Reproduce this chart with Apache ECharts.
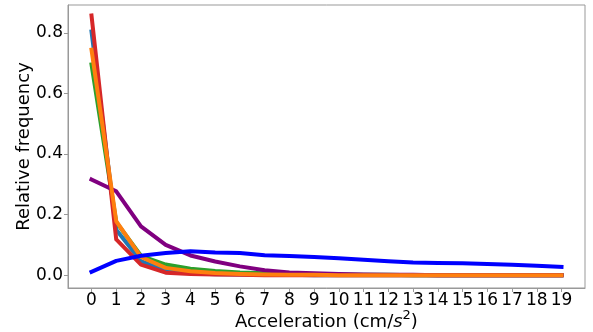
<!DOCTYPE html>
<html>
<head>
<meta charset="utf-8">
<script src="https://cdn.jsdelivr.net/npm/echarts@6/dist/echarts.min.js"></script>
<style>html,body{margin:0;padding:0;background:#fff}#c{width:593px;height:332px}</style>
</head>
<body>
<div id="c"></div>
<script>
var categories = [0,1,2,3,4,5,6,7,8,9,10,11,12,13,14,15,16,17,18,19];
var yTicks = [0, 0.2, 0.4, 0.6, 0.8];
var seriesC0 = [0.805,0.150,0.046,0.015,0.006,0.003,0.002,0.001,0.001,0.000,0,0,0,0,0,0,0,0,0,0];
var seriesGreen = [0.696,0.175,0.064,0.035,0.021,0.014,0.009,0.006,0.004,0.003,0.002,0.001,0.001,0,0,0,0,0,0,0];
var seriesRed = [0.858,0.118,0.035,0.008,0.004,0.002,0.001,0,0,0,0,0,0,0,0,0,0,0,0,0];
var seriesOrange = [0.745,0.178,0.060,0.024,0.013,0.007,0.004,0.002,0.001,0.001,0,0,0,0,0,0,0,0,0,0];
var seriesBlue = [0.011,0.047,0.064,0.073,0.079,0.075,0.073,0.066,0.063,0.060,0.056,0.051,0.046,0.042,0.040,0.039,0.037,0.034,0.031,0.027];
var seriesPurple = [0.316,0.277,0.161,0.100,0.065,0.045,0.029,0.016,0.009,0.006,0.004,0.002,0.001,0.001,0,0,0,0,0,0];

function pairs(arr){ return categories.map(function(c,i){ return [c, arr[i]]; }); }
function line(name, arr, color){
  return {name:name, type:'line', data:pairs(arr), symbol:'none', silent:true,
    lineStyle:{color:color, width:4, cap:'square', join:'round'}, itemStyle:{color:color}};
}
var font = 'DejaVu Sans';
var chart = echarts.init(document.getElementById('c'), null, {renderer:'canvas'});
chart.setOption({
  animation:false,
  backgroundColor:'#fff',
  grid:{left:68, right:8, top:5, bottom:44, show:true, borderColor:'#999', borderWidth:1,
    containLabel:false, outerBoundsMode:'none'},
  xAxis:{type:'value', min:-0.95, max:19.95,
    name:'Acceleration (cm/{it|s}{sup|2})', nameLocation:'middle', nameGap:21, nameMoveOverlap:false,
    nameTextStyle:{fontFamily:font, fontSize:18, color:'#000', lineHeight:26,
      rich:{it:{fontFamily:font, fontSize:18, fontStyle:'italic', color:'#000', lineHeight:26},
            sup:{fontFamily:font, fontSize:13, lineHeight:13, verticalAlign:'top', color:'#000'}}},
    axisLine:{show:true, onZero:false, lineStyle:{color:'#999', width:1}},
    axisTick:{show:true, length:4, inside:false, customValues:categories, lineStyle:{color:'#999'}},
    axisLabel:{customValues:categories, fontFamily:font, fontSize:17, color:'#000', margin:4,
      formatter:function(v){return String(Math.round(v));}},
    splitLine:{show:false}},
  yAxis:{type:'value', min:-0.0425, max:0.8925,
    name:'Relative frequency', nameLocation:'middle', nameGap:35, nameRotate:90, nameMoveOverlap:false,
    nameTextStyle:{fontFamily:font, fontSize:18, color:'#000'},
    axisLine:{show:true, onZero:false, lineStyle:{color:'#999', width:1}},
    axisTick:{show:true, length:4, inside:false, customValues:yTicks, lineStyle:{color:'#999'}},
    axisLabel:{customValues:yTicks, fontFamily:font, fontSize:17, color:'#000', margin:5,
      formatter:function(v){return v.toFixed(1);}},
    splitLine:{show:false}},
  series:[
    line('c0', seriesC0, '#1f77b4'),
    line('green', seriesGreen, '#2ca02c'),
    line('red', seriesRed, '#d62728'),
    line('purple', seriesPurple, '#800080'),
    line('orange', seriesOrange, '#ff7f0e'),
    line('blue', seriesBlue, '#0000ff')
  ]
});
</script>
</body>
</html>
